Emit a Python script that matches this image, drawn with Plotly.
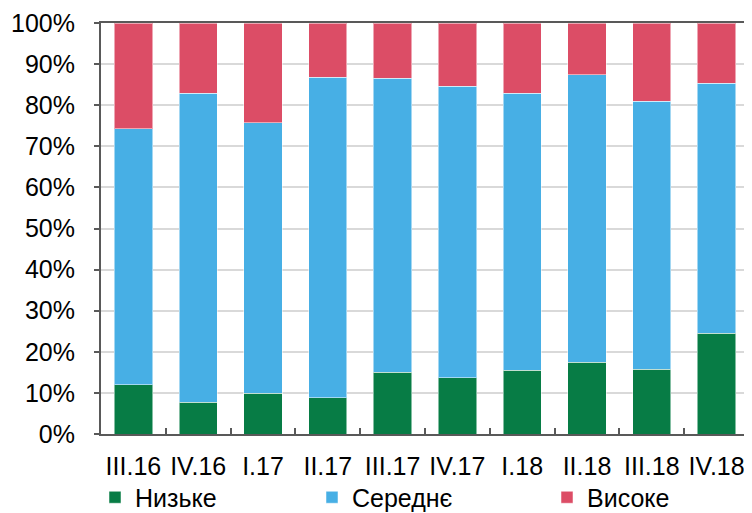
import plotly.graph_objects as go

categories = ["III.16", "IV.16", "I.17", "II.17", "III.17", "IV.17", "I.18", "II.18", "III.18", "IV.18"]
low = [12.0, 7.7, 9.9, 8.8, 15.0, 13.7, 15.5, 17.4, 15.8, 24.5]
medium = [62.3, 75.2, 65.8, 78.0, 71.6, 70.9, 67.4, 70.0, 65.2, 60.8]
high = [25.7, 17.1, 24.3, 13.2, 13.4, 15.4, 17.1, 12.6, 19.0, 14.7]
series_names = ["Низьке", "Середнє", "Високе"]
colors = ["#077C45", "#47AFE5", "#DC4D66"]
y_ticks = [0, 10, 20, 30, 40, 50, 60, 70, 80, 90, 100]

FONT = "Liberation Sans, Arial, sans-serif"

fig = go.Figure()
legends = ["legend", "legend2", "legend3"]
for name, vals, col, lg in zip(series_names, [low, medium, high], colors, legends):
    fig.add_trace(go.Bar(
        x=categories, y=vals, name=name, legend=lg, showlegend=True,
        marker=dict(color=col, line=dict(color="rgba(255,255,255,0.5)", width=1)),
    ))

# page body has an 8px margin; figure coordinates = screen coordinates - 8
OFF = 8
W, H = 744, 505
ml, mt = 101 - OFF, 23 - OFF
right_px, bottom_px = 749 - OFF, 434 - OFF
mr, mb = W - right_px, H - bottom_px
pw = W - ml - mr
ph = H - mt - mb

def lx(screen_px):
    return (screen_px - OFF - ml) / pw

ly = -(497.5 - OFF - bottom_px) / ph

leg_common = dict(orientation="h", yanchor="middle", xanchor="left", y=ly,
                  font=dict(family=FONT, size=25, color="#000000"),
                  bgcolor="rgba(0,0,0,0)", borderwidth=0, itemwidth=30,
                  tracegroupgap=0)

fig.update_layout(
    width=W, height=H,
    margin=dict(l=ml, r=mr, t=mt, b=mb, autoexpand=False),
    barmode="stack", bargap=0.41,
    showlegend=True,
    plot_bgcolor="white", paper_bgcolor="white",
    font=dict(family=FONT, size=25, color="#000000"),
    legend=dict(x=lx(95), **leg_common),
    legend2=dict(x=lx(312), **leg_common),
    legend3=dict(x=lx(547), **leg_common),
    xaxis=dict(
        type="category", showline=True, linecolor="#595959", linewidth=2, mirror=True,
        ticks="inside", tickson="boundaries", ticklen=6, tickcolor="#595959", tickwidth=1.5,
        showgrid=False, ticklabelstandoff=9, tickangle=0,
        tickfont=dict(family=FONT, size=25, color="#000000"),
    ),
    yaxis=dict(
        range=[0, 100], tickvals=y_ticks, ticktext=[f"{v}%" for v in y_ticks],
        showline=True, linecolor="#595959", linewidth=2, mirror=True,
        ticks="outside", ticklen=5, tickcolor="#595959", tickwidth=1.5,
        showgrid=True, gridcolor="#D9D9D9", gridwidth=1.5, zeroline=False,
        ticklabelstandoff=14,
        tickfont=dict(family=FONT, size=25, color="#000000"),
    ),
)

fig.write_html("out.html")
